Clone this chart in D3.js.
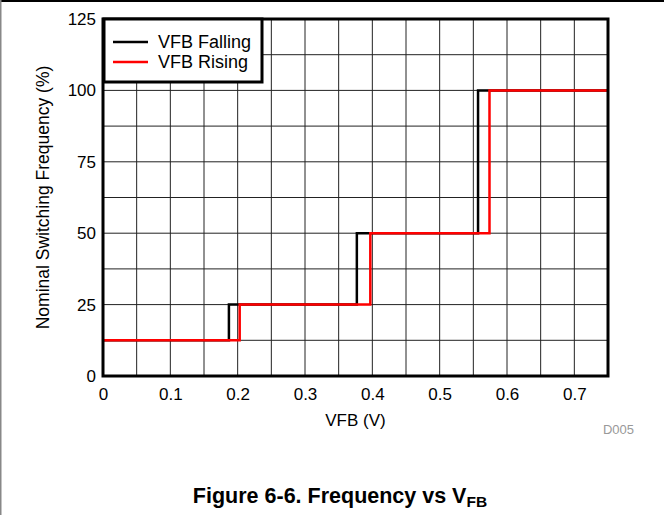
<!DOCTYPE html>
<html><head><meta charset="utf-8">
<script src="https://cdn.jsdelivr.net/npm/d3@7"></script>
<style>
html,body{margin:0;padding:0;background:#fff;}
svg{display:block;font-family:"Liberation Sans",Arial,sans-serif;}
</style></head>
<body>
<script>
// Data: step thresholds (V) and frequency levels (%)
const levels = [12.5, 25, 50, 100];
const fallingEdges = [0.187, 0.377, 0.557];
const risingEdges = [0.203, 0.397, 0.574];
const xTicks = [0, 0.1, 0.2, 0.3, 0.4, 0.5, 0.6, 0.7];
const yTicks = [0, 25, 50, 75, 100, 125];
const seriesNames = ["VFB Falling", "VFB Rising"];
const seriesColors = ["#000000", "#ff0000"];
const xMax = 0.75, yMax = 125;

function stepPoints(edges) {
  const pts = [[0, levels[0]]];
  edges.forEach((e, i) => { pts.push([e, levels[i]]); pts.push([e, levels[i + 1]]); });
  pts.push([xMax, levels[levels.length - 1]]);
  return pts;
}

const W = 664, H = 515;
const m = {left: 103, right: 608, top: 19, bottom: 376};
const FF = "Liberation Sans, Arial, sans-serif";
const svg = d3.select("body").append("svg").attr("width", W).attr("height", H);

// page border
svg.append("line").attr("x1", 0).attr("x2", W).attr("y1", 1).attr("y2", 1).attr("stroke", "#000").attr("stroke-width", 2);
svg.append("line").attr("x1", 0.5).attr("x2", 0.5).attr("y1", 0).attr("y2", H).attr("stroke", "#888").attr("stroke-width", 2);

const x = d3.scaleLinear().domain([0, xMax]).range([m.left, m.right]);
const y = d3.scaleLinear().domain([0, yMax]).range([m.bottom, m.top]);

// grid
const g = svg.append("g");
d3.range(0.05, xMax, 0.05).forEach(v => {
  g.append("line").attr("x1", x(v)).attr("x2", x(v)).attr("y1", m.top).attr("y2", m.bottom)
    .attr("stroke", "#222").attr("stroke-width", 1);
});
d3.range(12.5, yMax, 12.5).forEach(v => {
  g.append("line").attr("x1", m.left).attr("x2", m.right).attr("y1", y(v)).attr("y2", y(v))
    .attr("stroke", "#222").attr("stroke-width", 1);
});

// axes tick labels
const xAxis = d3.axisBottom(x).tickValues(xTicks).tickSize(0).tickPadding(12).tickFormat(d => d === 0 ? "0" : d3.format(".1f")(d));
const xg = svg.append("g").attr("transform", `translate(0,${m.bottom})`).call(xAxis);
xg.attr("font-size", 17).attr("font-family", FF);
xg.select(".domain").remove();
xg.selectAll("text").attr("fill", "#000");

const yAxis = d3.axisLeft(y).tickValues(yTicks).tickSize(0).tickPadding(7);
const yg = svg.append("g").attr("transform", `translate(${m.left},0)`).call(yAxis);
yg.attr("font-size", 17).attr("font-family", FF);
yg.select(".domain").remove();
yg.selectAll("text").attr("fill", "#000");

// lines
const line = d3.line().x(d => x(d[0])).y(d => y(d[1]));
[fallingEdges, risingEdges].forEach((edges, i) => {
  svg.append("path").datum(stepPoints(edges)).attr("d", line)
    .attr("fill", "none").attr("stroke", seriesColors[i]).attr("stroke-width", 2.5)
    .attr("stroke-linejoin", "miter");
});

// frame
svg.append("rect").attr("x", m.left).attr("y", m.top).attr("width", m.right - m.left).attr("height", m.bottom - m.top)
  .attr("fill", "none").attr("stroke", "#000").attr("stroke-width", 3);

// legend
const lg = svg.append("g");
lg.append("rect").attr("x", 104).attr("y", 19).attr("width", 158).attr("height", 63)
  .attr("fill", "#fff").attr("stroke", "#000").attr("stroke-width", 3);
seriesNames.forEach((n, i) => {
  const yy = 42 + i * 20;
  lg.append("line").attr("x1", 113).attr("x2", 148).attr("y1", yy).attr("y2", yy)
    .attr("stroke", seriesColors[i]).attr("stroke-width", 2.5);
  lg.append("text").attr("x", 158).attr("y", yy + 6).attr("font-size", 18).text(n);
});

// titles
svg.append("text").attr("x", (m.left + m.right) / 2).attr("y", 426).attr("text-anchor", "middle")
  .attr("font-size", 17).text("VFB (V)");
svg.append("text").attr("transform", `translate(49,${(m.top + m.bottom) / 2}) rotate(-90)`)
  .attr("text-anchor", "middle").attr("font-size", 17.5).text("Nominal Switching Frequency (%)");
svg.append("text").attr("x", 634).attr("y", 434).attr("text-anchor", "end")
  .attr("font-size", 13).attr("fill", "#999").text("D005");

// caption
const cap = svg.append("text").attr("x", 340).attr("y", 503).attr("text-anchor", "middle")
  .attr("font-size", 21.5).attr("font-weight", "bold");
cap.append("tspan").text("Figure 6-6. Frequency vs V");
cap.append("tspan").attr("font-size", 15.5).attr("dy", 4).text("FB");
</script>
</body></html>
